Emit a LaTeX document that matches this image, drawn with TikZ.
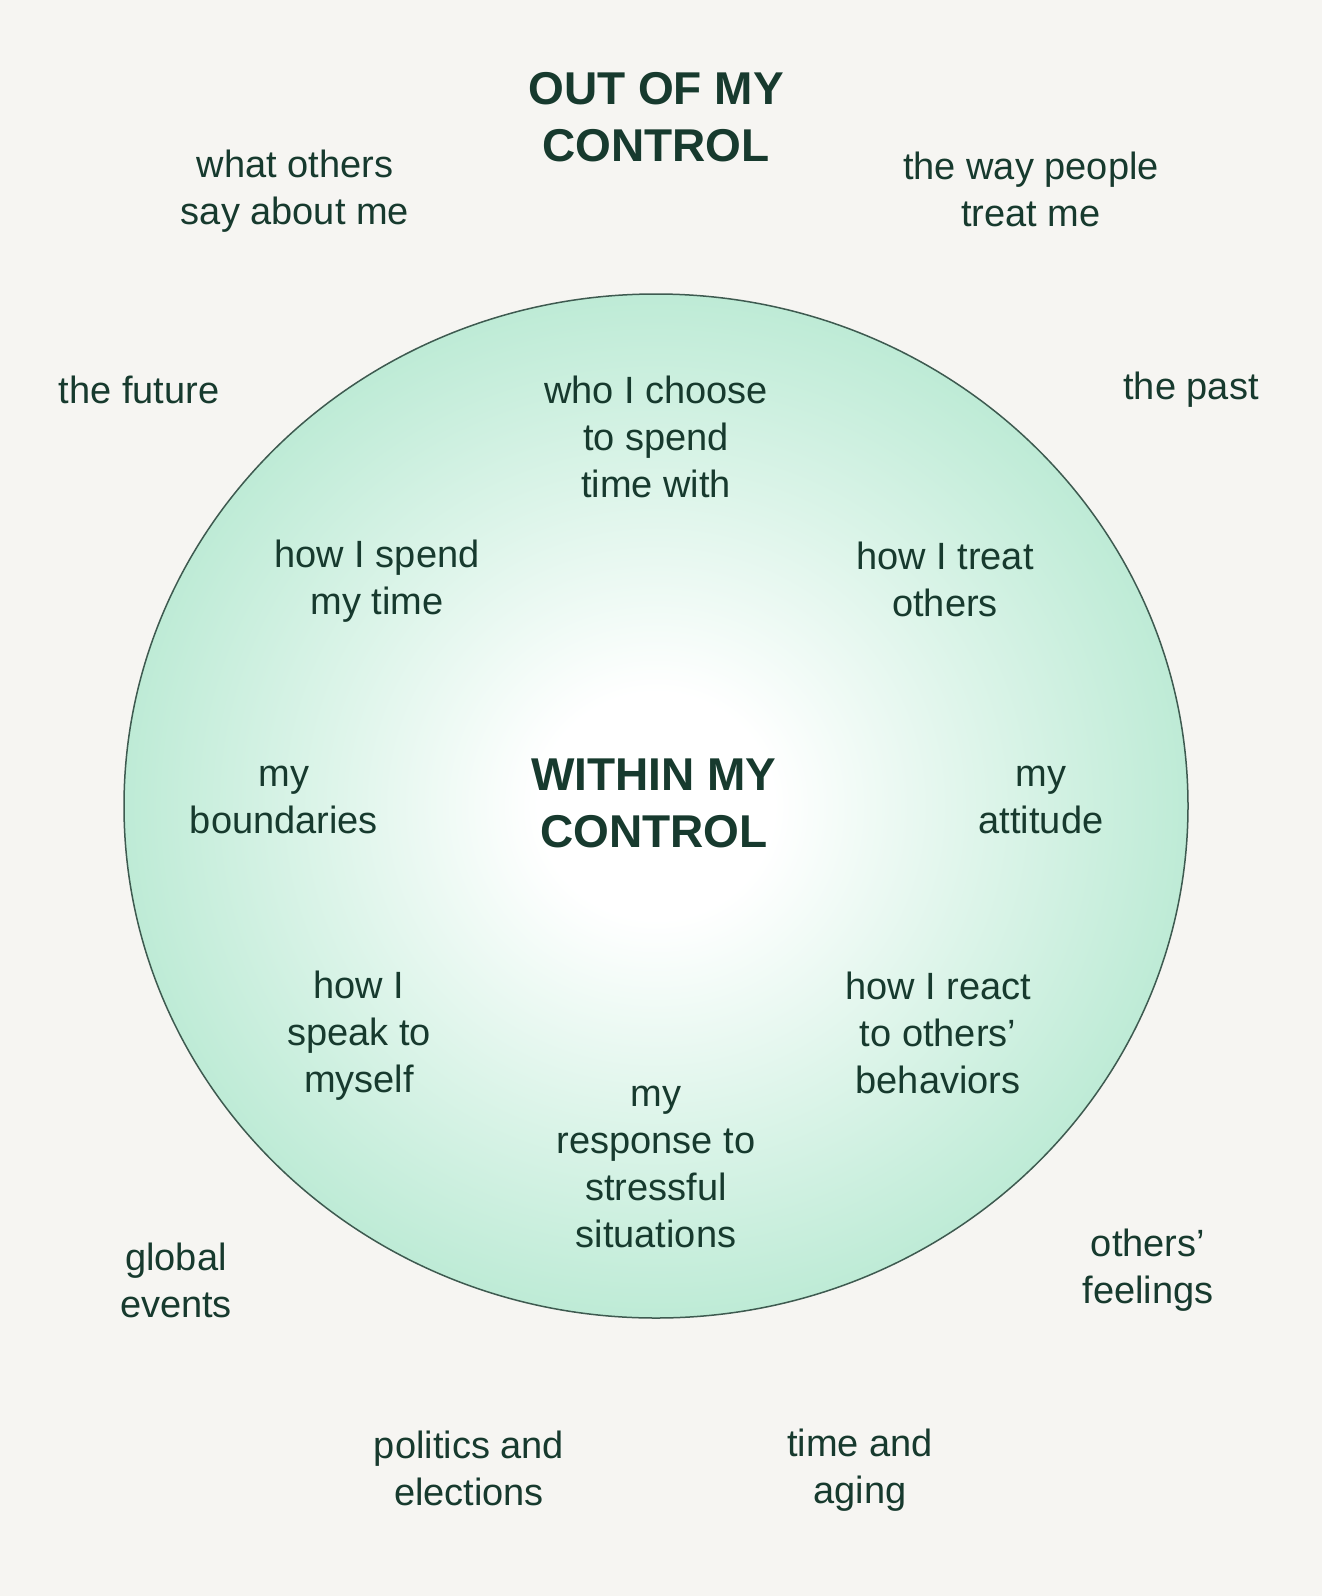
\documentclass[tikz,border=0pt]{standalone}
\usepackage{fontspec}
\setmainfont{Liberation Sans}
\usepackage{xcolor}
\definecolor{paper}{HTML}{F6F5F2}
\definecolor{ink}{HTML}{173A2E}
\definecolor{mint}{HTML}{BEEBD6}
\definecolor{rim}{HTML}{3E5A50}
\pgfdeclareradialshading{mintglow}{\pgfpoint{0bp}{0bp}}{%
  color(0bp)=(white); color(5.5bp)=(white); color(15bp)=(mint!50!white);
  color(25bp)=(mint); color(50bp)=(mint)}

\begin{document}
\begin{tikzpicture}[
  x=0.5pt, y=-0.5pt,
  item/.style={
    text=ink,
    align=center,
    inner sep=0pt,
    font=\fontsize{19}{23.5}\selectfont
  },
  heading/.style={
    text=ink,
    align=center,
    inner sep=0pt,
    font=\fontsize{23}{28.5}\selectfont\bfseries
  },
  zone/.style={
    shading=mintglow,
    draw=rim,
    line width=0.75pt
  }
]
\fill[paper] (0,0) rectangle (1322,1596);
\path[zone] (656,806) ellipse [x radius=532, y radius=512];

\node[heading] (outside) at (656,117) {OUT OF MY\\CONTROL};
\node[heading] (inside) at (654,803) {WITHIN MY\\CONTROL};

\node[item] (othersSay) at (295,191) {what others\\say about me};
\node[item] (peopleTreat) at (1031,189) {the way people\\treat me};
\node[item] (future) at (139,390) {the future};
\node[item] (past) at (1191,390) {the past};
\node[item] (globalEvents) at (176,1280) {global\\events};
\node[item] (feelings) at (1148,1270) {others’\\feelings};
\node[item] (politics) at (469,1468) {politics and\\elections};
\node[item] (aging) at (860,1470) {time and\\aging};

\node[item] (company) at (656,437) {who I choose\\to spend\\time with};
\node[item] (spendTime) at (377,581) {how I spend\\my time};
\node[item] (treatOthers) at (945,579) {how I treat\\others};
\node[item] (boundaries) at (284,800) {my\\boundaries};
\node[item] (attitude) at (1041,800) {my\\attitude};
\node[item] (selfTalk) at (359,1036) {how I\\speak to\\myself};
\node[item] (reactions) at (938,1033) {how I react\\to others’\\behaviors};
\node[item] (stress) at (656,1167) {my\\response to\\stressful\\situations};
\end{tikzpicture}
\end{document}
